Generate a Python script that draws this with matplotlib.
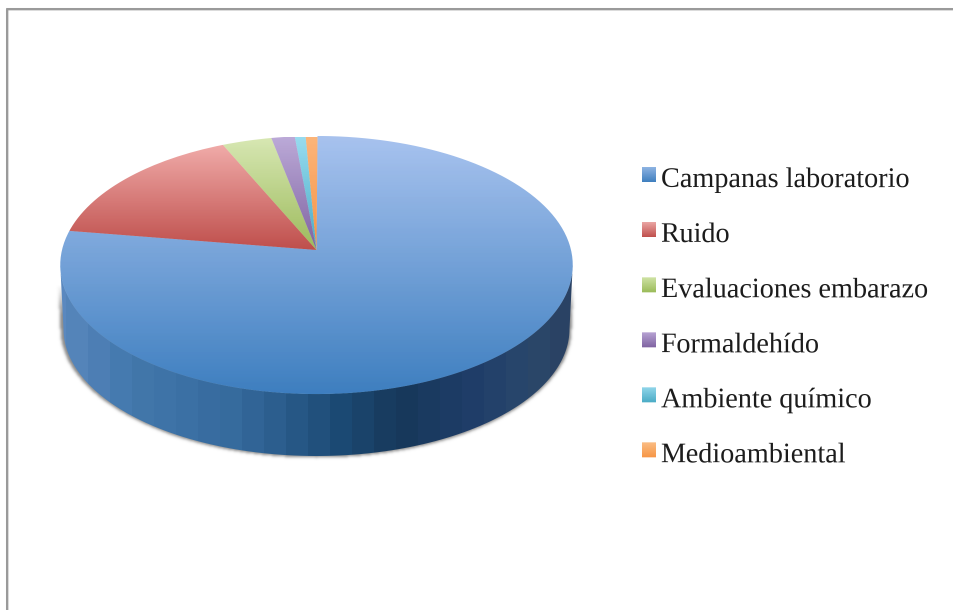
import io
import numpy as np
import matplotlib
matplotlib.use("Agg")
import matplotlib.pyplot as plt
from matplotlib.path import Path
from matplotlib.patches import PathPatch
from matplotlib.transforms import Transform
from matplotlib.colors import to_rgb

categories = ["Campanas laboratorio", "Ruido", "Evaluaciones embarazo",
              "Formaldehído", "Ambiente químico", "Medioambiental"]
values = [77.4, 15.9, 3.5, 1.65, 0.76, 0.83]
top_colors = ["#a8c3ef", "#f4b2b0", "#d8e8b4", "#bcaad8", "#98dcf0", "#fcb57a"]
bottom_colors = ["#3e7fc0", "#bf4f4c", "#9dbb5c", "#7f63a1", "#4aabc5", "#f69445"]
swatch_top = ["#8fb4e3", "#eba6a4", "#cfe3a5", "#b7a3d3", "#90d6ea", "#fbbd84"]
swatch_bottom = ["#3f7fbf", "#c0504d", "#9bbb59", "#8064a2", "#4bacc6", "#f79646"]
wall_x = [60, 130, 240, 340, 400, 470, 530, 572]
wall_colors = ["#5a89bf", "#4378ad", "#356a9c", "#1c4a74", "#17385a", "#1f3d69", "#2a486c", "#2a4062"]

CX, CY, A, B, C = 316.5, 250.0, 127.3, 0.1163, 254.5
BAND = 22
SS = 3  # supersampling factor for smooth clipped edges


class Perspective(Transform):
    input_dims = output_dims = 2
    is_affine = False
    has_inverse = False

    def transform_non_affine(self, pts):
        pts = np.asarray(pts, float)
        w = 1 + B * pts[:, 1]
        return np.column_stack([CX + C * pts[:, 0] / w, CY - A * pts[:, 1] / w])


persp = Perspective()
fig = plt.figure(figsize=(9.54, 6.10), dpi=100, facecolor="white")
ax = fig.add_axes([0, 0, 1, 1])


def gradient(c0, c1, n=256):
    c0, c1 = np.array(to_rgb(c0)), np.array(to_rgb(c1))
    t = np.linspace(0, 1, n)[:, None, None]
    return c0[None, None, :] * (1 - t) + c1[None, None, :] * t


wedges, _ = ax.pie(values, startangle=89.75, counterclock=False, radius=1.0)
ax.set_aspect("auto")

# front half of the disc rim and the slab's lower rim, in pixels
t = np.linspace(np.pi + np.arcsin(B), 2 * np.pi - np.arcsin(B), 361)
front = persp.transform_non_affine(np.column_stack([np.cos(t), np.sin(t)]))
s = np.linspace(np.pi, 0, 361)
lower = np.column_stack([CX + 253 * np.cos(s), 329 + 127 * np.sin(s)])
wall_poly = np.vstack([front, lower[::-1], front[:1]])
wall_path = Path(wall_poly)

# soft shadow round the slab, fading out towards the disc's widest point
gx, gy = np.meshgrid(np.arange(954) + .5, np.arange(610) + .5)
inside = lambda dx, dy: wall_path.contains_points(
    np.column_stack([gx.ravel() + dx, gy.ravel() + dy])).reshape(610, 954).astype(float)
mask = np.maximum.reduce([inside(0, -1.5), inside(3, 0), inside(-2, 0)])
kernel = np.exp(-np.linspace(-4, 4, 9) ** 2 / (2 * 1.4 ** 2))
kernel /= kernel.sum()
blur = np.apply_along_axis(lambda r: np.convolve(r, kernel, "same"), 0, mask)
blur = np.apply_along_axis(lambda r: np.convolve(r, kernel, "same"), 1, blur)
rgba = np.zeros((610, 954, 4))
rgba[..., :3] = 0.35
rgba[..., 3] = blur * 0.7 * np.clip((gy - 285) / 30, 0, 1)
ax.imshow(rgba, extent=(0, 954, 610, 0), aspect="auto", zorder=1, interpolation="bilinear")

# banded side wall
xs = np.arange(50, 585)
xb = (xs // BAND) * BAND + BAND / 2
wc = np.array([to_rgb(c) for c in wall_colors])
strip = np.stack([np.interp(xb, wall_x, wc[:, i]) for i in range(3)], axis=-1)[None, :, :]
wall_patch = PathPatch(wall_path, facecolor="none", edgecolor="none", zorder=2)
ax.add_patch(wall_patch)
wall_im = ax.imshow(strip, extent=(50, 585, 470, 250), aspect="auto", zorder=3, interpolation="nearest")
wall_im.set_clip_path(wall_patch)

# top face: wedges with vertical gradients
for i, w in enumerate(wedges):
    w.set_transform(persp + ax.transData)
    w.set_facecolor("none")
    w.set_edgecolor("none")
    w.set_zorder(4)
    y0 = 136 if i == 0 else 137
    y1 = 394 if i == 0 else 250
    im = ax.imshow(gradient(top_colors[i], bottom_colors[i]), extent=(55, 580, y1, y0),
                   aspect="auto", zorder=5, interpolation="bilinear")
    im.set_clip_path(w)

# legend
for i, name in enumerate(categories):
    y = 187 + 55.1 * i
    ax.imshow(gradient(swatch_top[i], swatch_bottom[i]), extent=(642, 656, y - 5, y - 20),
              aspect="auto", zorder=5, interpolation="bilinear")
    ax.text(661, y, name, family="Liberation Serif", fontsize=20.3, color="#1c1c1c",
            va="baseline", ha="left", zorder=6)

# frame
ax.plot([7, 7], [610, 9], color="#9a9a9a", lw=1.7, solid_capstyle="butt", zorder=7)
ax.plot([6, 954], [9, 9], color="#9a9a9a", lw=1.7, solid_capstyle="butt", zorder=7)

ax.set_xlim(0, 954)
ax.set_ylim(610, 0)
ax.axis("off")

# render large, then average down to 954x610
buf = io.BytesIO()
fig.savefig(buf, format="png", dpi=100 * SS, facecolor="white")
buf.seek(0)
big = plt.imread(buf)[..., :3]
h, w_ = big.shape[0] // SS, big.shape[1] // SS
small = big[:h * SS, :w_ * SS].reshape(h, SS, w_, SS, 3).mean(axis=(1, 3))
plt.imsave("out.png", np.clip(small, 0, 1))
